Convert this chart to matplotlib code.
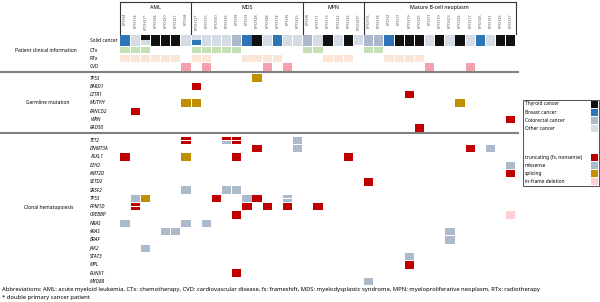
import matplotlib.pyplot as plt
from matplotlib.patches import Rectangle

plt.rcParams['font.family'] = ['Noto Sans', 'DejaVu Sans']

# ---- data ----
groups = ["AML", "MDS", "MPN", "Mature B-cell neoplasm"]
group_sizes = [7, 11, 6, 15]
patients = ["KPCH4", "KPCH14", "KPCH21*", "KPCH34", "KPCH20", "KPCH27", "KPCH8",
            "KPCH12*", "KPCH15", "KPCH30", "KPCH36", "KPCH9", "KPCH3", "KPCH28",
            "KPCH38", "KPCH14", "KPCH5", "KPCH33",
            "KPCH6", "KPCH11", "KPCH13", "KPCH22", "KPCH32", "KPCH29*",
            "KPCH16", "KPCH18", "KPCH2", "KPCH7", "KPCH19", "KPCH25", "KPCH1",
            "KPCH10", "KPCH23", "KPCH24", "KPCH17", "KPCH26", "KPCH31", "KPCH35", "KPCH37"]

solid_cancer = ["breast", "other", "thyroid/other", "thyroid", "thyroid", "thyroid", "other",
                "other/breast", "other", "other", "other", "colorectal", "breast", "thyroid",
                "other", "breast", "other", "other",
                "colorectal", "other", "thyroid", "other", "thyroid", "other/other",
                "colorectal", "colorectal", "breast", "thyroid", "thyroid", "thyroid", "other",
                "thyroid", "other", "thyroid", "other", "breast", "other", "thyroid", "thyroid"]
ctx = [0, 1, 2, 7, 8, 9, 10, 11, 18, 19, 24, 25]
rtx = [0, 1, 2, 3, 4, 5, 7, 8, 12, 13, 14, 15, 20, 21, 22, 26, 27, 28, 29]
cvd = [6, 8, 14, 16, 30, 34]

germline_genes = ["TP53", "BARD1", "LZTR1", "MUTYH", "FANCD2", "WRN", "RAD50"]
germline = {
    "TP53": [(13, "splicing")],
    "BARD1": [(7, "trunc")],
    "LZTR1": [(28, "trunc")],
    "MUTYH": [(6, "splicing"), (7, "splicing"), (33, "splicing")],
    "FANCD2": [(1, "trunc")],
    "WRN": [(38, "trunc")],
    "RAD50": [(29, "trunc")],
}

clonal_genes = ["TET2", "DNMT3A", "ASXL1", "EZH2", "KMT2D", "SETD2", "SRSF2", "TP53",
                "PPM1D", "CREBBP", "NRAS", "KRAS", "BRAF", "JAK2", "STAT3", "MPL",
                "RUNX1", "MYD88"]
clonal = {
    "TET2": [(6, "trunc/trunc"), (10, "trunc/mis"), (11, "trunc/trunc"), (17, "mis")],
    "DNMT3A": [(13, "trunc"), (17, "mis"), (34, "trunc"), (36, "mis")],
    "ASXL1": [(0, "trunc"), (6, "splicing"), (11, "trunc"), (22, "trunc")],
    "EZH2": [(38, "mis")],
    "KMT2D": [(38, "trunc")],
    "SETD2": [(24, "trunc")],
    "SRSF2": [(6, "mis"), (10, "mis"), (11, "mis")],
    "TP53": [(1, "mis"), (2, "splicing"), (9, "trunc"), (12, "mis"), (13, "trunc"),
             (16, "mis/mis")],
    "PPM1D": [(1, "trunc/trunc"), (12, "trunc"), (14, "trunc"), (16, "trunc"), (19, "trunc")],
    "CREBBP": [(11, "trunc"), (38, "inframe")],
    "NRAS": [(0, "mis"), (6, "mis"), (8, "mis")],
    "KRAS": [(4, "mis"), (5, "mis"), (32, "mis")],
    "BRAF": [(32, "mis")],
    "JAK2": [(2, "mis")],
    "STAT3": [(28, "mis")],
    "MPL": [(28, "trunc")],
    "RUNX1": [(11, "trunc")],
    "MYD88": [(24, "mis")],
}

cancer_names = ["Thyroid cancer", "Breast cancer", "Colorectal cancer", "Other cancer"]
mut_names = ["truncating (fs, nonsense)", "missense", "splicing", "in-frame deletion"]

# ---- styles ----
cancer_col = {"thyroid": "#111111", "breast": "#2e75b6", "colorectal": "#acb9ca",
              "other": "#d6dce5"}
mut_col = {"trunc": "#c00000", "mis": "#acb9ca", "splicing": "#bf9000",
           "inframe": "#ffcfd2"}
ctx_col, rtx_col, cvd_col = "#c5e0b4", "#fbe5d6", "#f4a0ae"

n = len(patients)
x0, cw = 120, 10.15
xs = [x0 + cw * (i + 0.5) for i in range(n)]
bw = cw - 0.9
fs_lab = 3.5

fig = plt.figure(figsize=(6, 3.02), dpi=100)
ax = fig.add_axes([0, 0, 1, 1])
ax.set_xlim(0, 600)
ax.set_ylim(302, 0)
ax.axis('off')


def cell(i, y, h, kinds, cmap):
    parts = kinds.split("/")
    k = len(parts)
    gap = 0.8 if k > 1 else 0
    ph = (h - gap * (k - 1)) / k
    top = y - h / 2
    for j, p in enumerate(parts):
        ax.bar(xs[i], ph, bottom=top + j * (ph + gap), width=bw, color=cmap[p],
               linewidth=0)


# header
ax.plot([x0, x0 + cw * n], [2, 2], color='#333333', lw=0.8)
start = 0
for g, s in zip(groups, group_sizes):
    left, right = x0 + cw * start, x0 + cw * (start + s)
    ax.plot([left, left], [2, 34], color='#333333', lw=0.8)
    ax.text((left + right) / 2, 7.5, g, ha='center', va='center', fontsize=3.8,
            fontweight='bold')
    start += s
ax.plot([x0 + cw * n] * 2, [2, 34], color='#333333', lw=0.8)
for i, p in enumerate(patients):
    ax.text(xs[i], 13, p, rotation=90, ha='center', va='top', fontsize=2.8,
            color='#555555')

# clinical rows
clin_rows = [("Solid cancer", 40, 11), ("CTx", 50, 6.6), ("RTx", 58.7, 7), ("CVD", 67, 7.4)]
for i, c in enumerate(solid_cancer):
    cell(i, 40, 11, c, cancer_col)
for i in ctx:
    ax.bar(xs[i], 6.6, bottom=50 - 3.3, width=bw, color=ctx_col, linewidth=0)
for i in rtx:
    ax.bar(xs[i], 7, bottom=58.7 - 3.5, width=bw, color=rtx_col, linewidth=0)
for i in cvd:
    ax.bar(xs[i], 7.4, bottom=67 - 3.7, width=bw, color=cvd_col, linewidth=0)
for name, y, h in clin_rows:
    ax.text(90, y, name, ha='left', va='center', fontsize=fs_lab)
ax.text(46, 51, "Patient clinical information", ha='center', va='center', fontsize=fs_lab)

# separators
for ys in (72, 133):
    ax.plot([0, 519], [ys, ys], color='#808080', lw=1.5, solid_capstyle='butt')

# germline
step = 8.3
gy = {g: 78 + step * k for k, g in enumerate(germline_genes)}
for g in germline_genes:
    ax.text(90, gy[g], g, ha='left', va='center', fontsize=fs_lab, style='italic')
    for i, kind in germline[g]:
        cell(i, gy[g], 7.4, kind, mut_col)
ax.text(48, 103, "Germline mutation", ha='center', va='center', fontsize=fs_lab)

# clonal hematopoiesis
cy = {g: 140.3 + step * k for k, g in enumerate(clonal_genes)}
for g in clonal_genes:
    ax.text(90, cy[g], g, ha='left', va='center', fontsize=fs_lab, style='italic')
    for i, kind in clonal[g]:
        cell(i, cy[g], 7.4, kind, mut_col)
ax.text(49, 208, "Clonal hematopoiesis", ha='center', va='center', fontsize=fs_lab)

# legend
ax.add_patch(Rectangle((523, 99.5), 76, 86, fill=False, edgecolor='#333333', lw=0.6))
legend_items = list(zip(cancer_names, [cancer_col[k] for k in ["thyroid", "breast", "colorectal", "other"]]))
for k, (lab, col) in enumerate(legend_items):
    yy = 104 + 8 * k
    ax.text(525, yy, lab, ha='left', va='center', fontsize=3.5)
    ax.bar(594.5, 7, bottom=yy - 3.5, width=7, color=col, linewidth=0)
for k, (lab, key) in enumerate(zip(mut_names, ["trunc", "mis", "splicing", "inframe"])):
    yy = 157.7 + 8 * k
    ax.text(525, yy, lab, ha='left', va='center', fontsize=3.5)
    ax.bar(594.5, 7, bottom=yy - 3.5, width=7, color=mut_col[key], linewidth=0)

# footnotes
ax.text(2, 290, "Abbreviations: AML: acute myeloid leukemia, CTx: chemotherapy, CVD: cardiovascular "
        "disease, fs: frameshift, MDS: myelodysplastic syndrome, MPN: myeloproliferative neoplasm, "
        "RTx: radiotherapy", ha='left', va='center', fontsize=4.2)
ax.text(2, 297.5, "* double primary cancer patient", ha='left', va='center', fontsize=4.2)

fig.savefig("out.png", dpi=100)
